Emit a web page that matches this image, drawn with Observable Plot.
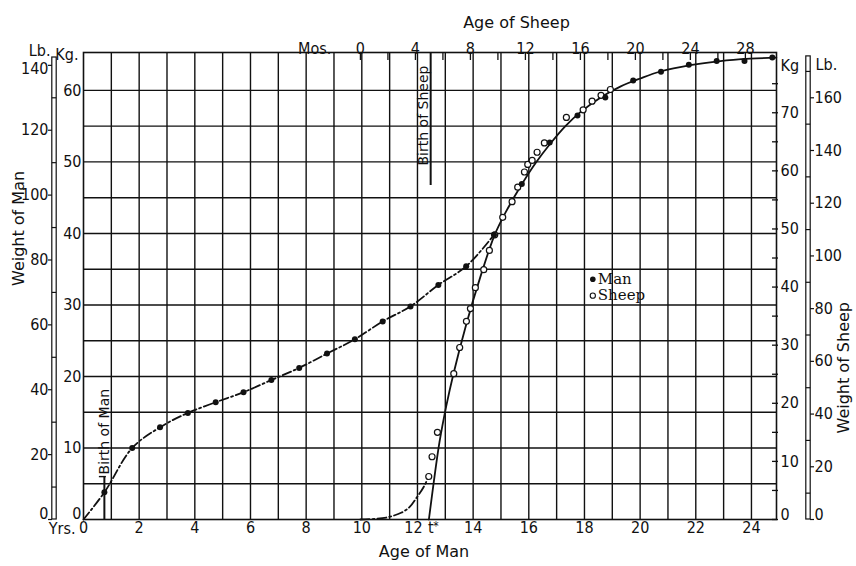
<!DOCTYPE html>
<html>
<head>
<meta charset="utf-8">
<script src="https://cdn.jsdelivr.net/npm/d3@7"></script>
<script src="https://cdn.jsdelivr.net/npm/@observablehq/plot@0.6"></script>
<style>
  html, body { margin: 0; padding: 0; background: #fff; }
</style>
</head>
<body>
<div id="chart"></div>
<script>
// Man: age in years from conception, body weight in kg
const manAge = [0.75, 1.75, 2.75, 3.75, 4.75, 5.75, 6.75, 7.75, 8.75, 9.75, 10.75, 11.75,
                12.75, 13.75, 14.75, 15.75, 16.75, 17.75, 18.75, 19.75, 20.75, 21.75, 22.75, 23.75, 24.75];
const manKg  = [3.8, 10.0, 12.9, 14.9, 16.4, 17.8, 19.5, 21.2, 23.2, 25.2, 27.7, 29.8,
                32.8, 35.4, 39.8, 46.9, 52.7, 56.5, 59.0, 61.4, 62.6, 63.6, 64.1, 64.1, 64.6];

// Sheep: age in months from conception, body weight in kg
const sheepMonths = [4.97, 5.21, 5.6, 6.79, 7.22, 7.71, 8.0, 8.36, 8.97, 9.38, 9.77, 10.35, 11.03,
                     11.44, 11.93, 12.17, 12.49, 12.85, 13.38, 14.98, 16.2, 16.85, 17.5, 18.18];
const sheepKg     = [7.4, 10.8, 15.0, 25.1, 29.6, 34.1, 36.3, 39.9, 43.0, 46.3, 49.0, 52.0, 54.7,
                     57.2, 59.8, 61.1, 61.8, 63.2, 64.8, 69.2, 70.5, 72.0, 73.0, 74.0];

// Sheep before birth (dash-dot), months / kg
const fetalMonths = [0, 1, 2, 3, 3.6, 4.1, 4.6, 4.97];
const fetalKg     = [0, 0.1, 0.4, 1.2, 2.2, 3.8, 5.6, 7.4];

// Smooth growth curve common to both after the break (solid), in sheep units
const fitMonths = [4.98, 5.31, 5.75, 6.25, 6.76, 7.71, 8.73, 9.75, 10.55, 11.64, 12.73, 13.82,
                   14.91, 16.0, 17.45, 18.9, 20.36, 21.82, 24.0, 26.18, 28.36, 30.25];
const fitKg     = [0, 6.0, 13.3, 19.6, 25.0, 33.7, 41.8, 48.9, 52.8, 57.3, 61.3, 64.7,
                   67.7, 70.1, 72.6, 74.5, 75.9, 77.1, 78.2, 78.9, 79.3, 79.5];

// Axis ticks
const yearTicks = d3.range(0, 25, 2);
const kgTicks = d3.range(0, 61, 10);
const lbTicks = d3.range(0, 141, 20);
const monthTicks = d3.range(0, 29, 4);
const sheepKgTicks = d3.range(0, 71, 10);
const sheepLbTicks = d3.range(0, 161, 20);

// Scale relations between the two animals' axes
const LB = 2.20462;            // lb per kg
const SK = 0.8125;             // sheep kg -> plotted (man kg) units
const M0 = 9.95;               // man years at sheep month 0
const YPM = 0.494;             // man years per sheep month
const X_MAX = 24.9, Y_MAX = 65.3;
const T_STAR = fitMonths[0];   // sheep month where the solid curve meets zero
const SHEEP_BIRTH = 5;         // months
const MAN_BIRTH = 0.75;        // years

const sx = m => M0 + YPM * m;
const sy = k => k * SK;

const man = manAge.map((a, i) => ({x: a, y: manKg[i]}));
const sheep = sheepMonths.map((m, i) => ({x: sx(m), y: sy(sheepKg[i])}));
const fetal = fetalMonths.map((m, i) => ({x: sx(m), y: sy(fetalKg[i])}));
const fit = fitMonths.map((m, i) => ({x: sx(m), y: sy(fitKg[i])}));
const manEarly = [{x: 0, y: 0}, ...man.filter(d => d.x <= 14.8)];

const ink = "#111";
const narrow = "'Liberation Sans Narrow', 'DejaVu Sans Condensed', sans-serif";
const sans = "'DejaVu Sans', sans-serif";
const tickText = {fontFamily: narrow, fontSize: 16, fill: ink, stroke: "none"};
const titleText = {fontFamily: sans, fontSize: 16, fill: ink, stroke: "none"};
const dashDot = "9,3,2,3";
const notZero = a => a.filter(d => d !== 0);

const chart = Plot.plot({
  width: 856,
  height: 566,
  marginLeft: 83,
  marginRight: 80,
  marginTop: 52,
  marginBottom: 47,
  x: {domain: [0, X_MAX], axis: null},
  y: {domain: [0, Y_MAX], axis: null},
  style: {background: "#fff", overflow: "visible"},
  marks: [
    // grid: one column per year of man, one row per 5 kg
    Plot.ruleX(d3.range(1, 25), {stroke: ink, strokeWidth: 1.4}),
    Plot.ruleY(d3.range(5, 65, 5), {stroke: ink, strokeWidth: 1.4}),
    Plot.frame({stroke: ink, strokeWidth: 1.6}),

    // birth markers
    Plot.ruleX([MAN_BIRTH], {y1: 0, y2: 6.0, stroke: ink, strokeWidth: 2}),
    Plot.ruleY([6.0], {x1: MAN_BIRTH, x2: MAN_BIRTH, insetLeft: -5, insetRight: -2, stroke: ink, strokeWidth: 1.4}),
    Plot.text(["Birth of Man"], {x: MAN_BIRTH, y: 6.3, rotate: -90, textAnchor: "start", fontFamily: sans, fontSize: 14, fill: ink}),
    Plot.ruleX([sx(SHEEP_BIRTH)], {y1: 46.7, y2: Y_MAX, stroke: ink, strokeWidth: 2, dx: 1.5}),
    Plot.text(["Birth of Sheep"], {x: sx(SHEEP_BIRTH), y: 49.5, rotate: -90, textAnchor: "start", dx: -6, fontFamily: sans, fontSize: 14, fill: ink}),

    // curves
    Plot.line(manEarly, {x: "x", y: "y", curve: "catmull-rom", stroke: ink, strokeWidth: 1.8, strokeDasharray: dashDot}),
    Plot.line(fetal, {x: "x", y: "y", curve: "catmull-rom", stroke: ink, strokeWidth: 1.8, strokeDasharray: dashDot}),
    Plot.line(fit, {x: "x", y: "y", curve: "catmull-rom", stroke: ink, strokeWidth: 1.8}),

    // observations
    Plot.dot(sheep, {x: "x", y: "y", r: 3, fill: "#fff", stroke: ink, strokeWidth: 1.2}),
    Plot.dot(man, {x: "x", y: "y", r: 3, fill: ink, stroke: "none"}),

    // bottom axis: age of man
    Plot.text(yearTicks.filter(d => d !== 12), {x: d => d, frameAnchor: "bottom", dy: 13, ...tickText}),
    Plot.text([12], {x: d => d, frameAnchor: "bottom", dx: -4, dy: 13, ...tickText}),
    Plot.text(["Yrs."], {frameAnchor: "bottom-left", dx: -8, dy: 14, textAnchor: "end", ...tickText}),
    Plot.text(["t"], {x: sx(T_STAR), frameAnchor: "bottom", dx: 2, dy: 13, ...tickText}),
    Plot.text(["*"], {x: sx(T_STAR), frameAnchor: "bottom", dx: 7, dy: 10, ...tickText, fontSize: 12}),
    Plot.text(["Age of Man"], {frameAnchor: "bottom", dx: -6, dy: 37, ...titleText}),

    // top axis: age of sheep
    Plot.ruleX(d3.range(0, 30, 2).map(sx), {y1: Y_MAX, y2: Y_MAX, insetTop: 8, stroke: ink, strokeWidth: 1.3}),
    Plot.text(monthTicks, {x: d => sx(d), frameAnchor: "top", dy: -10, ...tickText}),
    Plot.text(["Mos."], {x: sx(0), frameAnchor: "top", dx: -29, dy: -10, textAnchor: "end", ...tickText}),
    Plot.text(["Age of Sheep"], {x: sx(11.35), frameAnchor: "top", dy: -36, ...titleText}),

    // left axes: man kg and lb
    Plot.text(notZero(kgTicks), {y: d => d, frameAnchor: "left", dx: -2, textAnchor: "end", ...tickText}),
    Plot.text([0], {y: 0, frameAnchor: "left", dx: -2, dy: -6, textAnchor: "end", ...tickText}),
    Plot.text(["Kg."], {frameAnchor: "top-left", dx: -5, dy: -4, textAnchor: "end", ...tickText}),
    Plot.rect([0], {x1: 0, x2: 0, y1: 0, y2: 64.6, insetLeft: -2.2, insetRight: -2.2, dx: -29, fill: "#fff", stroke: ink, strokeWidth: 1.2}),
    Plot.ruleY(d3.range(10, 140, 20), {y: d => d / LB, x1: 0, x2: 0, insetLeft: -2.2, insetRight: -2.2, dx: -29, stroke: ink, strokeWidth: 1.2}),
    Plot.ruleY(lbTicks, {y: d => d / LB, x1: 0, x2: 0, insetLeft: -2, insetRight: -2, dx: -33, stroke: ink, strokeWidth: 1.2}),
    Plot.text(notZero(lbTicks).filter(d => d !== 140), {y: d => d / LB, frameAnchor: "left", dx: -35, textAnchor: "end", ...tickText}),
    Plot.text([140], {y: d => d / LB, frameAnchor: "left", dx: -35, dy: 4, textAnchor: "end", ...tickText}),
    Plot.text([0], {y: 0, frameAnchor: "left", dx: -35, dy: -6, textAnchor: "end", ...tickText}),
    Plot.text(["Lb."], {frameAnchor: "top-left", dx: -33, dy: -8, textAnchor: "end", ...tickText}),
    Plot.text(["Weight of Man"], {frameAnchor: "left", dx: -65, rotate: -90, ...titleText}),

    // right axes: sheep kg and lb
    Plot.ruleY(d3.range(0, 80, 5), {y: d => sy(d), x1: X_MAX, x2: X_MAX, insetLeft: -4, insetRight: -2, stroke: ink, strokeWidth: 1.3}),
    Plot.text(notZero(sheepKgTicks), {y: d => sy(d), frameAnchor: "right", dx: 4, textAnchor: "start", ...tickText}),
    Plot.text([0], {y: 0, frameAnchor: "right", dx: 4, dy: -5, textAnchor: "start", ...tickText}),
    Plot.text(["Kg"], {frameAnchor: "top-right", dx: 4, dy: 7, textAnchor: "start", ...tickText}),
    Plot.rect([0], {x1: X_MAX, x2: X_MAX, y1: 0, y2: sy(79.7), insetLeft: -2.2, insetRight: -2.2, dx: 32, fill: "#fff", stroke: ink, strokeWidth: 1.2}),
    Plot.ruleY(d3.range(10, 180, 20), {y: d => sy(d / LB), x1: X_MAX, x2: X_MAX, insetLeft: -2.2, insetRight: -2.2, dx: 32, stroke: ink, strokeWidth: 1.2}),
    Plot.ruleY(sheepLbTicks, {y: d => sy(d / LB), x1: X_MAX, x2: X_MAX, insetLeft: -2, insetRight: -2, dx: 36, stroke: ink, strokeWidth: 1.2}),
    Plot.text(notZero(sheepLbTicks), {y: d => sy(d / LB), frameAnchor: "right", dx: 38, textAnchor: "start", ...tickText}),
    Plot.text([0], {y: 0, frameAnchor: "right", dx: 38, dy: -5, textAnchor: "start", ...tickText}),
    Plot.text(["Lb."], {frameAnchor: "top-right", dx: 39, dy: 6, textAnchor: "start", ...tickText}),
    Plot.text(["Weight of Sheep"], {frameAnchor: "right", dx: 67, dy: 16, rotate: -90, ...titleText}),

    // legend
    Plot.dot([{x: 18.3, y: 33.6}], {x: "x", y: "y", r: 2.8, fill: ink}),
    Plot.dot([{x: 18.3, y: 31.3}], {x: "x", y: "y", r: 2.6, fill: "#fff", stroke: ink, strokeWidth: 1.1}),
    Plot.text(["Man"], {x: 18.3, y: 33.6, dx: 5, textAnchor: "start", fontFamily: "'DejaVu Serif', serif", fontSize: 15, fill: ink}),
    Plot.text(["Sheep"], {x: 18.3, y: 31.3, dx: 5, textAnchor: "start", fontFamily: "'DejaVu Serif', serif", fontSize: 15, fill: ink})
  ]
});

document.getElementById("chart").append(chart);
</script>
</body>
</html>
